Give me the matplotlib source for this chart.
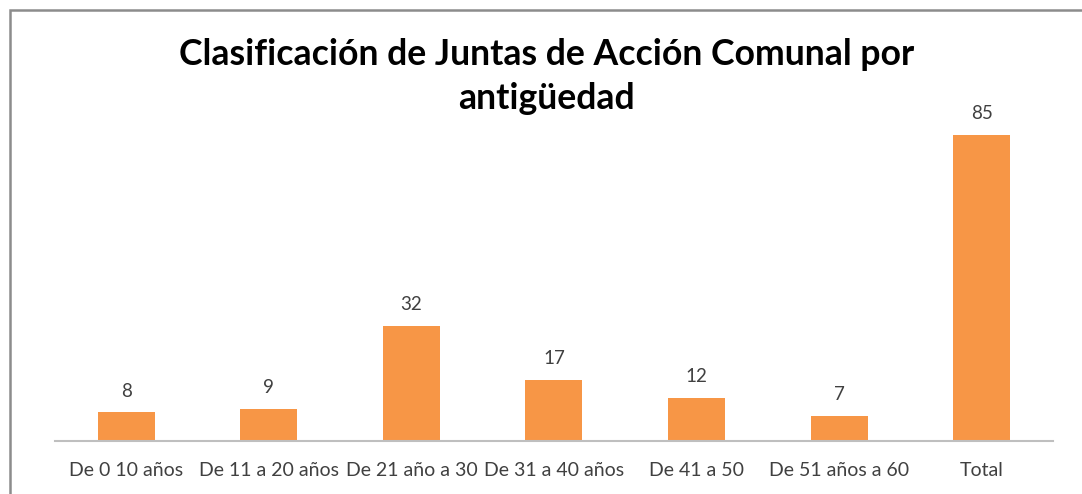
import matplotlib.pyplot as plt
from matplotlib.patches import Rectangle

categories = ['De 0 10 años', 'De 11 a 20 años', 'De 21 año a 30', 'De 31 a 40 años',
              'De 41 a 50', 'De 51 años a 60', 'Total']
values = [8, 9, 32, 17, 12, 7, 85]

plt.rcParams['font.family'] = ['Lato', 'DejaVu Sans']

fig = plt.figure(figsize=(10.82, 4.94), dpi=100)
ax = fig.add_axes([0.0508, 0.1073, 0.9224, 0.656])

bars = ax.bar(range(len(categories)), values, width=0.4, color='#F79646')
for b, v in zip(bars, values):
    ax.text(b.get_x() + b.get_width() / 2, v + 3.5, str(v), ha='center', va='bottom',
            fontsize=13.5, color='#404040')

ax.set_xlim(-0.5, len(categories) - 0.5)
ax.set_ylim(0, 90)
ax.set_xticks(range(len(categories)))
ax.set_xticklabels(categories, fontsize=14, color='#404040')
ax.tick_params(axis='x', length=0, pad=15)
ax.set_yticks([])
for s in ['top', 'right', 'left']:
    ax.spines[s].set_visible(False)
ax.spines['bottom'].set_color('#BFBFBF')
ax.spines['bottom'].set_linewidth(1.5)

fig.text(0.505, 0.845, 'Clasificación de Juntas de Acción Comunal por\nantigüedad',
         ha='center', va='center', fontsize=25.7, fontweight='bold', color='black',
         linespacing=1.38)

# outer frame
fig.patches.append(Rectangle((10 / 1082, -0.1), 1.2, (494 - 10) / 494 + 0.1,
                             transform=fig.transFigure, fill=False,
                             edgecolor='#8C8C8C', linewidth=1.8))

fig.savefig('out.png', dpi=100)
